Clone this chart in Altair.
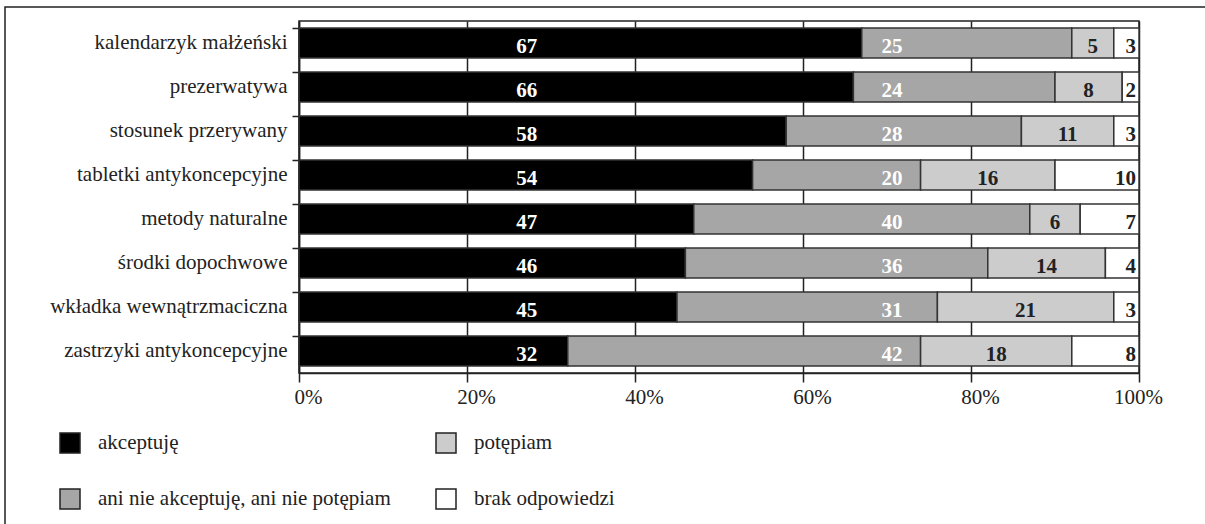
import altair as alt
import pandas as pd

categories = [
    "kalendarzyk małżeński",
    "prezerwatywa",
    "stosunek przerywany",
    "tabletki antykoncepcyjne",
    "metody naturalne",
    "środki dopochwowe",
    "wkładka wewnątrzmaciczna",
    "zastrzyki antykoncepcyjne",
]
series = ["akceptuję", "ani nie akceptuję, ani nie potępiam", "potępiam", "brak odpowiedzi"]
akceptuje = [67, 66, 58, 54, 47, 46, 45, 32]
ani_nie = [25, 24, 28, 20, 40, 36, 31, 42]
potepiam = [5, 8, 11, 16, 6, 14, 21, 18]
brak = [3, 2, 3, 10, 7, 4, 3, 8]
x_ticks = [0, 20, 40, 60, 80, 100]

series_colors = ["#000000", "#a6a6a6", "#cccccc", "#ffffff"]

rows = []
for i, cat in enumerate(categories):
    vals = [akceptuje[i], ani_nie[i], potepiam[i], brak[i]]
    start = 0
    for j, (s, v) in enumerate(zip(series, vals)):
        end = start + v
        if j == 0:
            lx = 27.1
        elif j == 1:
            lx = 70.6
        elif j == 2:
            lx = (start + end) / 2
        else:
            lx = 100
        rows.append({"cat": cat, "seg": s, "idx": j, "value": v,
                     "start": start, "end": end, "lx": lx})
        start = end
df = pd.DataFrame(rows)

FONT = "Liberation Serif"
TXT = "#222222"

base = alt.Chart(df)

y_axis = alt.Axis(bandPosition=0, labelLimit=400, tickSize=7,
                  labelPadding=5, grid=False)
x_axis = alt.Axis(values=x_ticks, labelExpr="datum.value + '%'",
                  tickSize=9, labelPadding=4, grid=True, labelFlush=False,
                  labelOffset=alt.condition("datum.value == 100", alt.value(-1), alt.value(9)))
x_scale = alt.Scale(domain=[0, 100], nice=False)
y_scale = alt.Scale(paddingInner=0.32, paddingOuter=0.16)

bars = base.mark_bar(stroke="#333333", strokeWidth=1.5).encode(
    x=alt.X("start:Q", scale=x_scale, title=None, axis=x_axis),
    x2="end:Q",
    y=alt.Y("cat:N", sort=categories, title=None, scale=y_scale, axis=y_axis),
    color=alt.Color("seg:N", title=None,
                    scale=alt.Scale(domain=series, range=series_colors),
                    legend=alt.Legend(orient="none", legendX=-240, legendY=411,
                                      columns=2, symbolType="square", symbolSize=400,
                                      symbolStrokeColor="#222222", symbolStrokeWidth=1.5,
                                      labelLimit=500, labelOffset=17, rowPadding=30,
                                      columnPadding=42, padding=0)),
    order=alt.Order("idx:Q"),
)

label_color = alt.condition("datum.idx <= 1", alt.value("#ffffff"), alt.value(TXT))

def text_layer(flt, align, dx):
    return base.transform_filter(flt).mark_text(
        font=FONT, fontSize=21, fontWeight="bold", baseline="alphabetic",
        dy=10, align=align, dx=dx
    ).encode(
        x=alt.X("lx:Q", scale=x_scale, title=None, axis=x_axis),
        y=alt.Y("cat:N", sort=categories, title=None, scale=y_scale, axis=y_axis),
        text="value:Q", color=label_color)

labels_c = text_layer("datum.idx <= 2", "center", 0)
labels_r = text_layer("datum.idx == 3", "right", -3)

frame = alt.Chart(pd.DataFrame({"a": [0]})).mark_rect(
    fillOpacity=0, stroke="#222222", strokeWidth=1.5
).encode(x=alt.value(-294), x2=alt.value(1000), y=alt.value(-14), y2=alt.value(600))

chart = alt.layer(frame, bars, labels_c, labels_r).properties(
    width=840, height=352,
    autosize=alt.AutoSizeParams(type="none"),
    padding={"left": 299, "top": 21, "right": 66, "bottom": 151},
).configure(
    background="white", font=FONT
).configure_view(
    stroke=TXT, strokeWidth=1.5
).configure_axis(
    labelFont=FONT, labelFontSize=21, labelColor=TXT,
    tickColor=TXT, tickWidth=1.5, domainColor=TXT, domainWidth=1.5,
    gridColor=TXT, gridWidth=1.5, gridOpacity=1
).configure_legend(
    labelFont=FONT, labelFontSize=21, labelColor=TXT
)

chart.save("out.html", embed_options={"renderer": "svg", "actions": False})
